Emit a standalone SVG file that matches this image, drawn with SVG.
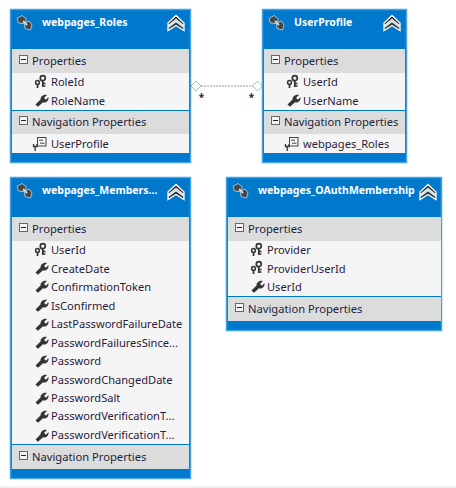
<svg xmlns="http://www.w3.org/2000/svg" xmlns:xlink="http://www.w3.org/1999/xlink" width="456" height="488" viewBox="0 0 456 488">
<style>
text{font-family:"Noto Sans","Open Sans","Liberation Sans",sans-serif;}
.frame{fill:#0078cc;stroke:#45a3e4;stroke-width:1.5}
.band{fill:#dcdcdc}
.rows{fill:#f5f5f5}
.title{font-size:10.500px;font-weight:700;fill:#fff}
.sec{font-size:11.200px;fill:#1e1e3c}
.item{font-size:11.100px;fill:#2a1a3c}
.conn{fill:none;stroke:#8f98a3;stroke-width:1;stroke-dasharray:2 1}
.end{fill:#fff;stroke:#aab2ba;stroke-width:1}
.mult{font-size:10px;font-weight:700;fill:#222}
</style>
<defs>
<g id="tbl"><path d="M1 3.500 L6 .5 L10.500 4 L8 8.500 L2.500 8Z" fill="#454545" stroke="#cfd8df" stroke-width=".8"/><path d="M8.500 8 L13.500 6 L16 10 L14.500 15 L9 13.500Z" fill="#454545" stroke="#cfd8df" stroke-width=".8"/><path d="M7 6 L11 10" stroke="#cfd8df" stroke-width="1.800"/></g>
<g id="chev"><path d="M0 8 L8 0.500 L16 8 L16 11 L8 4.500 L0 11Z" fill="#333" stroke="#fff" stroke-width="1.300"/><path d="M0 12.500 L8 6.500 L16 12.500 L16 15.500 L8 10.500 L0 15.500Z" fill="#333" stroke="#fff" stroke-width="1.300"/></g>
<g id="minus"><rect x=".5" y=".5" width="8" height="8" fill="#f4f4f4" stroke="#666"/><path d="M2 4.500H7" stroke="#222"/></g>
<g id="key"><circle cx="7.800" cy="3.200" r="2.500" fill="none" stroke="#333" stroke-width="1.700"/><path d="M7.800 5.500V12M7.800 8.500H10.500M7.800 11H10.500" stroke="#333" stroke-width="1.700" fill="none"/><circle cx="2.500" cy="7.500" r="1.900" fill="none" stroke="#333" stroke-width="1.500"/><path d="M2.500 9V13" stroke="#333" stroke-width="1.700"/></g>
<g id="wrench"><path d="M.5 10.500 L5.500 5.500 C5.500 2.500 8.500 0 12 1 L9.300 3.500 L9.800 5 L11.300 5.500 L13.500 3 C14 6.800 11 9.300 8 8.300 L3 12.800Z" fill="#333"/></g>
<g id="nav"><rect x="4.500" y=".5" width="8.500" height="8.500" fill="#f5f5f5" stroke="#444"/><path d="M6 3.200H10M7 6.200H11.500" stroke="#444"/><path d="M0.500 7V9.500H4V7M2.200 9.500V14" stroke="#333" stroke-width="1.300" fill="none"/></g>
</defs>

<g id="connectors">
<path class="conn" d="M201 86H253"/>
<path class="end" d="M191 86L196 81L201 86L196 91Z"/>
<path class="end" d="M252.500 86L257.500 81L262.500 86L257.500 91Z"/>
<text class="mult" x="201.500" y="101" text-anchor="middle">*</text>
<text class="mult" x="251.500" y="101" text-anchor="middle">*</text>
</g>

<g id="node-webpages_Roles">
<rect class="frame" x="10.500" y="9.500" width="180" height="153"/>
<rect class="band" x="12" y="49" width="177" height="24"/>
<rect class="rows" x="12" y="73" width="177" height="37"/>
<rect class="band" x="12" y="111" width="177" height="23"/>
<rect class="rows" x="12" y="134" width="177" height="19"/>
<use xlink:href="#tbl" x="16" y="15"/>
<text class="title" x="42" y="26">webpages_Roles</text>
<use xlink:href="#chev" x="168" y="15"/>
<use xlink:href="#minus" x="19" y="55"/>
<text class="sec" x="32" y="65">Properties</text>
<use xlink:href="#key" x="35" y="75"/>
<text class="item" x="51" y="86">RoleId</text>
<use xlink:href="#wrench" x="35" y="94"/>
<text class="item" x="51" y="105">RoleName</text>
<use xlink:href="#minus" x="19" y="116"/>
<text class="sec" x="32" y="126">Navigation Properties</text>
<use xlink:href="#nav" x="33" y="137"/>
<text class="item" x="51" y="148">UserProfile</text>
</g>

<g id="node-UserProfile">
<rect class="frame" x="262.500" y="9.500" width="144" height="153"/>
<rect class="band" x="264" y="49" width="141" height="24"/>
<rect class="rows" x="264" y="73" width="141" height="37"/>
<rect class="band" x="264" y="111" width="141" height="23"/>
<rect class="rows" x="264" y="134" width="141" height="19"/>
<use xlink:href="#tbl" x="268" y="15"/>
<text class="title" x="294" y="26">UserProfile</text>
<use xlink:href="#chev" x="384" y="15"/>
<use xlink:href="#minus" x="271" y="55"/>
<text class="sec" x="284" y="65">Properties</text>
<use xlink:href="#key" x="287" y="75"/>
<text class="item" x="303" y="86">UserId</text>
<use xlink:href="#wrench" x="287" y="94"/>
<text class="item" x="303" y="105">UserName</text>
<use xlink:href="#minus" x="271" y="116"/>
<text class="sec" x="284" y="126">Navigation Properties</text>
<use xlink:href="#nav" x="285" y="137"/>
<text class="item" x="303" y="148">webpages_Roles</text>
</g>

<g id="node-webpages_Membership">
<rect class="frame" x="10.500" y="177.500" width="180" height="301"/>
<rect class="band" x="12" y="217" width="177" height="24"/>
<rect class="rows" x="12" y="241" width="177" height="203"/>
<rect class="band" x="12" y="445" width="177" height="24"/>
<use xlink:href="#tbl" x="16" y="183"/>
<text class="title" x="42" y="194">webpages_Members...</text>
<use xlink:href="#chev" x="168" y="184"/>
<use xlink:href="#minus" x="19" y="223"/>
<text class="sec" x="32" y="233">Properties</text>
<use xlink:href="#key" x="35" y="243"/>
<text class="item" x="51" y="254">UserId</text>
<use xlink:href="#wrench" x="35" y="262"/>
<text class="item" x="51" y="273">CreateDate</text>
<use xlink:href="#wrench" x="35" y="280"/>
<text class="item" x="51" y="291">ConfirmationToken</text>
<use xlink:href="#wrench" x="35" y="299"/>
<text class="item" x="51" y="310">IsConfirmed</text>
<use xlink:href="#wrench" x="35" y="318"/>
<text class="item" x="51" y="328">LastPasswordFailureDate</text>
<use xlink:href="#wrench" x="35" y="336"/>
<text class="item" x="51" y="347">PasswordFailuresSince...</text>
<use xlink:href="#wrench" x="35" y="355"/>
<text class="item" x="51" y="365">Password</text>
<use xlink:href="#wrench" x="35" y="374"/>
<text class="item" x="51" y="384">PasswordChangedDate</text>
<use xlink:href="#wrench" x="35" y="392"/>
<text class="item" x="51" y="402">PasswordSalt</text>
<use xlink:href="#wrench" x="35" y="410"/>
<text class="item" x="51" y="420">PasswordVerificationT...</text>
<use xlink:href="#wrench" x="35" y="429"/>
<text class="item" x="51" y="439">PasswordVerificationT...</text>
<use xlink:href="#minus" x="19" y="451"/>
<text class="sec" x="32" y="461">Navigation Properties</text>
</g>

<g id="node-webpages_OAuthMembership">
<rect class="frame" x="226.500" y="177.500" width="215" height="153"/>
<rect class="band" x="228" y="217" width="213" height="24"/>
<rect class="rows" x="228" y="241" width="213" height="55"/>
<rect class="band" x="228" y="297" width="213" height="24"/>
<use xlink:href="#tbl" x="232" y="183"/>
<text class="title" x="258" y="194">webpages_OAuthMembership</text>
<use xlink:href="#chev" x="420" y="184"/>
<use xlink:href="#minus" x="235" y="223"/>
<text class="sec" x="248" y="233">Properties</text>
<use xlink:href="#key" x="251" y="243"/>
<text class="item" x="267" y="254">Provider</text>
<use xlink:href="#key" x="251" y="261"/>
<text class="item" x="267" y="273">ProviderUserId</text>
<use xlink:href="#wrench" x="251" y="280"/>
<text class="item" x="267" y="291">UserId</text>
<use xlink:href="#minus" x="235" y="303"/>
<text class="sec" x="248" y="313">Navigation Properties</text>
</g>

<rect x="0" y="486" width="456" height="2" fill="#f0f0f0"/>
</svg>
